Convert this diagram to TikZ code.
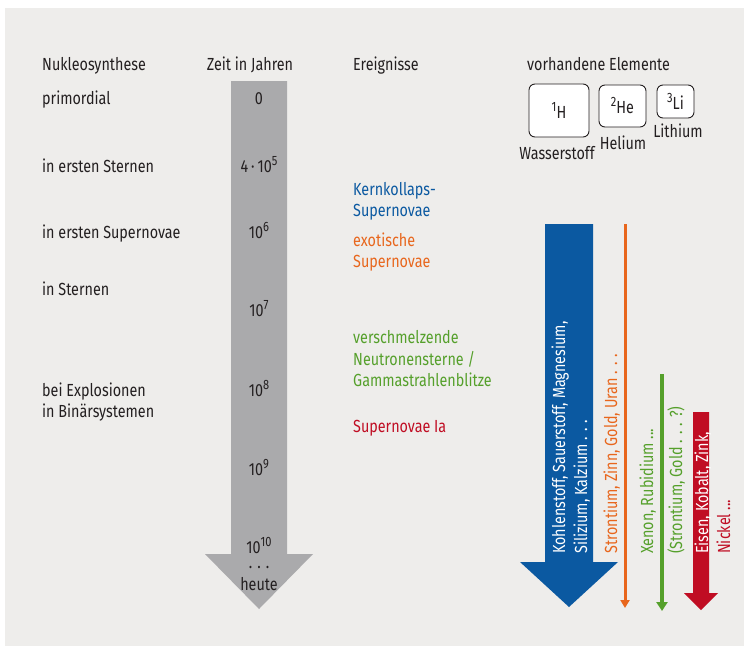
\documentclass[tikz,border=0pt]{standalone}
\usepackage{fontspec}
\setmainfont{Fira Sans}[FakeStretch=0.82]
\usetikzlibrary{arrows.meta}

\definecolor{hgrund}{HTML}{EEEDEB}
\definecolor{zeitgrau}{HTML}{AAAAAC}
\definecolor{kkblau}{HTML}{0B59A1}
\definecolor{exorange}{HTML}{E8661C}
\definecolor{nsgruen}{HTML}{55A02B}
\definecolor{iarot}{HTML}{C00D23}
\definecolor{schrift}{HTML}{231F20}

\newcommand{\hoch}[1]{\raisebox{0.4em}{\fontsize{13.5}{13.5}\selectfont #1}}

\tikzset{
  txt/.style={font=\fontsize{17.5}{21.5}\selectfont, text=schrift, inner sep=0pt, anchor=base west},
  mid/.style={txt, anchor=base},
  vert/.style={txt, rotate=90},
  elbox/.style={draw=schrift, fill=white, rounded corners=6pt, line width=0.9pt,
    inner sep=0pt, font=\fontsize{17.5}{21.5}\selectfont, text=schrift},
}

\begin{document}
\begin{tikzpicture}[x=1pt,y=-1pt]
                \useasboundingbox (0,0) rectangle (744,646);
                \fill [white] (0,0) rectangle (744,646);
                \fill [hgrund] (5,8) rectangle (744,646);
                % Kopfzeile
                \node [txt] (nukleo) at (42,70) {Nukleosynthese};
                \node [mid] (zeit) at (250,70) {Zeit in Jahren};
                \node [txt] (ereig) at (353,70) {Ereignisse};
                \node [txt] (elem) at (527,70) {vorhandene Elemente};
                % Nukleosynthese
                \node [txt] (prim) at (42,104) {primordial};
                \node [txt] (erstst) at (42,172) {in ersten Sternen};
                \node [txt] (erstsn) at (42,238) {in ersten Supernovae};
                \node [txt] (sterne) at (42,295) {in Sternen};
                \node [txt] (explo) at (42,396) {bei Explosionen};
                \node [txt] (binaer) at (42,417) {in Binärsystemen};
                % Zeitpfeil
                \fill [zeitgrau] (231,81) -- (287,81) -- (287,554) -- (313,554)
                  -- (259,609) -- (205,554) -- (231,554) -- cycle;
                \node [mid] (t0) at (259,104) {0};
                \node [mid] (t1) at (259,172.5) {4\,·\,10\hoch{5}};
                \node [mid] (t2) at (259,238) {10\hoch{6}};
                \node [mid] (t3) at (259,316.5) {10\hoch{7}};
                \node [mid] (t4) at (259,396) {10\hoch{8}};
                \node [mid] (t5) at (259,475) {10\hoch{9}};
                \node [mid, align=center] (t6) at (259,590) {10\hoch{10}\\[-6pt]. . .\\heute};
                % Ereignisse
                \node [txt, text=kkblau] (kk1) at (353,195) {Kernkollaps-};
                \node [txt, text=kkblau] (kk2) at (353,216) {Supernovae};
                \node [txt, text=exorange] (ex1) at (353,246) {exotische};
                \node [txt, text=exorange] (ex2) at (353,267) {Supernovae};
                \node [txt, text=nsgruen] (ns1) at (353,343.5) {verschmelzende};
                \node [txt, text=nsgruen] (ns2) at (353,365) {Neutronensterne /};
                \node [txt, text=nsgruen] (ns3) at (353,386.5) {Gammastrahlenblitze};
                \node [txt, text=iarot] (ia) at (353,432.5) {Supernovae Ia};
                % Elemente
                \node [elbox, minimum width=60, minimum height=53] (h) at (559,110.5) {\hoch{1}H};
                \node [elbox, minimum width=47, minimum height=42] (he) at (622.5,106) {\hoch{2}He};
                \node [elbox, minimum width=37, minimum height=33] (li) at (675.5,101.5) {\hoch{3}Li};
                \node [mid] (hname) at (557,159) {Wasserstoff};
                \node [mid] (hename) at (623,149) {Helium};
                \node [mid] (liname) at (678,137.5) {Lithium};
                % Pfeile der Elemente
                \fill [kkblau] (545,224) -- (593,224) -- (593,562) -- (618,562)
                  -- (569,607) -- (520,562) -- (545,562) -- cycle;
                \fill [iarot] (693,412) -- (709,412) -- (709,593) -- (718,593)
                  -- (701,610) -- (684,593) -- (693,593) -- cycle;
                \coordinate (orStart) at (625,224);
                \coordinate (orEnd) at (625,608);
                \coordinate (grStart) at (662,374);
                \coordinate (grEnd) at (662,611);
                \draw [exorange, line width=3pt, -{Triangle[width=9pt,length=8pt]}] (orStart) -- (orEnd);
                \draw [nsgruen, line width=4pt, -{Triangle[width=11pt,length=9pt]}] (grStart) -- (grEnd);
                \node [vert, text=white] (kk3) at (565,554) {Kohlenstoff, Sauerstoff, Magnesium,};
                \node [vert, text=white] (kk4) at (587,554) {Silizium, Kalzium . . .};
                \node [vert, text=exorange] (ex3) at (617,554) {Strontium, Zinn, Gold, Uran . . .};
                \node [vert, text=nsgruen] (ns4) at (653,554) {Xenon, Rubidium ...};
                \node [vert, text=nsgruen] (ns5) at (682,554) {(Strontium, Gold . . . ?)};
                \node [vert, text=white] (ia1) at (708,554) {Eisen, Kobalt, Zink,};
                \node [vert, text=iarot] (ia2) at (730,554) {Nickel ...};
\end{tikzpicture}
\end{document}
